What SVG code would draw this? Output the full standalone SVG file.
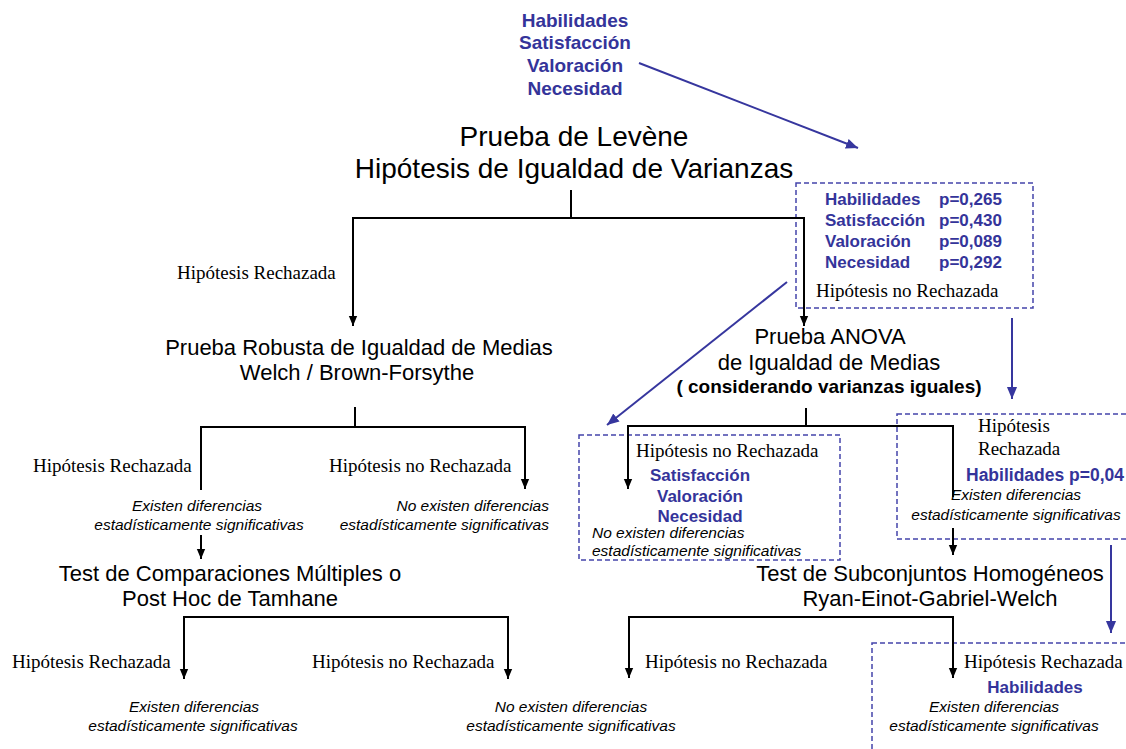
<svg xmlns="http://www.w3.org/2000/svg" width="1126" height="749" viewBox="0 0 1126 749">
<style>
text{font-family:"Liberation Sans",Arial,sans-serif;fill:#000}
.title{font-size:28px}
.big{font-size:22px}
.bbt{font-weight:bold;fill:#34349a;font-size:19px}
.bb{font-weight:bold;fill:#34349a;font-size:17px}
.bold{font-weight:bold;font-size:19px}
.lbl{font-family:"Liberation Serif","Times New Roman",serif;font-size:19px}
.it{font-style:italic;font-size:15.5px}
.mid{text-anchor:middle}
.ln{fill:none;stroke:#000;stroke-width:2}
.bl{fill:none;stroke:#36369e;stroke-width:2}
.dash{fill:none;stroke:#4444aa;stroke-width:1.5;stroke-dasharray:5 3}
</style>
<defs>
<marker id="ah" markerUnits="userSpaceOnUse" markerWidth="10" markerHeight="12" refX="12" refY="5" orient="auto" viewBox="0 0 12 10"><path d="M0,0 L12,5 L0,10 z" fill="#000"/></marker>
<marker id="ahb" markerUnits="userSpaceOnUse" markerWidth="12" markerHeight="12" refX="13" refY="5.5" orient="auto" viewBox="0 0 13 11"><path d="M0,0 L13,5.5 L0,11 z" fill="#36369e"/></marker>
</defs>

<g id="vars">
<text class="bbt mid" x="575" y="27">Habilidades</text>
<text class="bbt mid" x="575" y="49">Satisfacción</text>
<text class="bbt mid" x="575" y="72">Valoración</text>
<text class="bbt mid" x="575" y="95">Necesidad</text>
</g>

<g id="levene">
<text class="title mid" x="574" y="146">Prueba de Levène</text>
<text class="title mid" x="574" y="178">Hipótesis de Igualdad de Varianzas</text>
</g>

<g id="levene-result">
<rect class="dash" x="796" y="183" width="237" height="125"/>
<text class="bb" x="825" y="205">Habilidades</text><text class="bb" x="939" y="205">p=0,265</text>
<text class="bb" x="825" y="226">Satisfacción</text><text class="bb" x="939" y="226">p=0,430</text>
<text class="bb" x="825" y="247">Valoración</text><text class="bb" x="939" y="247">p=0,089</text>
<text class="bb" x="825" y="268">Necesidad</text><text class="bb" x="939" y="268">p=0,292</text>
<text class="lbl" x="816" y="297">Hipótesis no Rechazada</text>
</g>

<g id="lbl-levene-rej">
<text class="lbl" x="177" y="279">Hipótesis Rechazada</text>
</g>

<g id="robusta">
<text class="big mid" x="359" y="355">Prueba Robusta de Igualdad de Medias</text>
<text class="big mid" x="357" y="380">Welch / Brown-Forsythe</text>
</g>

<g id="anova">
<text class="big mid" x="830" y="344">Prueba ANOVA</text>
<text class="big mid" x="829" y="370">de Igualdad de Medias</text>
<text class="bold mid" x="829" y="393">( considerando varianzas iguales)</text>
</g>

<g id="robusta-rej">
<text class="lbl" x="33" y="472">Hipótesis Rechazada</text>
<text class="it mid" x="197" y="511">Existen diferencias</text>
<text class="it mid" x="199" y="530">estadísticamente significativas</text>
</g>

<g id="robusta-norej">
<text class="lbl" x="329" y="472">Hipótesis no Rechazada</text>
<text class="it" x="549" y="511" text-anchor="end">No existen diferencias</text>
<text class="it" x="549" y="530" text-anchor="end">estadísticamente significativas</text>
</g>

<g id="anova-norej">
<rect class="dash" x="579" y="435" width="261" height="125"/>
<text class="lbl" x="636" y="457">Hipótesis no Rechazada</text>
<text class="bb mid" x="700" y="481">Satisfacción</text>
<text class="bb mid" x="700" y="502">Valoración</text>
<text class="bb mid" x="700" y="522">Necesidad</text>
<text class="it" x="592" y="538">No existen diferencias</text>
<text class="it" x="592" y="556">estadísticamente significativas</text>
</g>

<g id="anova-rej">
<rect class="dash" x="897" y="414" width="240" height="125"/>
<text class="lbl" x="978" y="432">Hipótesis</text>
<text class="lbl" x="978" y="455">Rechazada</text>
<text class="bb" x="966" y="481" style="font-size:17.5px">Habilidades p=0,04</text>
<text class="it mid" x="1016" y="500">Existen diferencias</text>
<text class="it mid" x="1016" y="520">estadísticamente significativas</text>
</g>

<g id="tamhane">
<text class="big mid" x="230" y="581">Test de Comparaciones Múltiples o</text>
<text class="big mid" x="230" y="606">Post Hoc de Tamhane</text>
</g>

<g id="subconjuntos">
<text class="big mid" x="930" y="581">Test de Subconjuntos Homogéneos</text>
<text class="big mid" x="930" y="606">Ryan-Einot-Gabriel-Welch</text>
</g>

<g id="tamhane-rej">
<text class="lbl" x="12" y="668">Hipótesis Rechazada</text>
<text class="it mid" x="194" y="712">Existen diferencias</text>
<text class="it mid" x="193" y="731">estadísticamente significativas</text>
</g>

<g id="tamhane-norej">
<text class="lbl" x="312" y="668">Hipótesis no Rechazada</text>
</g>

<g id="common-norej">
<text class="it mid" x="571" y="712">No existen diferencias</text>
<text class="it mid" x="571" y="731">estadísticamente significativas</text>
</g>

<g id="ryan-norej">
<text class="lbl" x="645" y="668">Hipótesis no Rechazada</text>
</g>

<g id="ryan-rej">
<rect class="dash" x="872" y="643" width="265" height="120"/>
<text class="lbl" x="964" y="668">Hipótesis Rechazada</text>
<text class="bb mid" x="1035" y="693">Habilidades</text>
<text class="it mid" x="994" y="712">Existen diferencias</text>
<text class="it mid" x="994" y="731">estadísticamente significativas</text>
</g>

<g id="connectors">
<path class="ln" d="M571,190 V218"/>
<path class="ln" d="M571,218 H353 V326" marker-end="url(#ah)"/>
<path class="ln" d="M571,218 H804 V326" marker-end="url(#ah)"/>
<path class="ln" d="M355,407 V427"/>
<path class="ln" d="M355,427 H201 V490"/>
<path class="ln" d="M355,427 H525 V489" marker-end="url(#ah)"/>
<path class="ln" d="M201,535 V559" marker-end="url(#ah)"/>
<path class="ln" d="M346,617 H184 V679" marker-end="url(#ah)"/>
<path class="ln" d="M346,617 H508 V679" marker-end="url(#ah)"/>
<path class="ln" d="M806,408 V426"/>
<path class="ln" d="M806,426 H628 V489" marker-end="url(#ah)"/>
<path class="ln" d="M806,426 H953 V497"/>
<path class="ln" d="M953,528 V555" marker-end="url(#ah)"/>
<path class="ln" d="M790,617 H629 V678" marker-end="url(#ah)"/>
<path class="ln" d="M790,617 H953 V678" marker-end="url(#ah)"/>
<path class="bl" d="M639,63 L858,148" marker-end="url(#ahb)"/>
<path class="bl" d="M787,282 L607,425" marker-end="url(#ahb)"/>
<path class="bl" d="M1012,318 V399" marker-end="url(#ahb)"/>
<path class="bl" d="M1111,545 V633" marker-end="url(#ahb)"/>
</g>
</svg>
